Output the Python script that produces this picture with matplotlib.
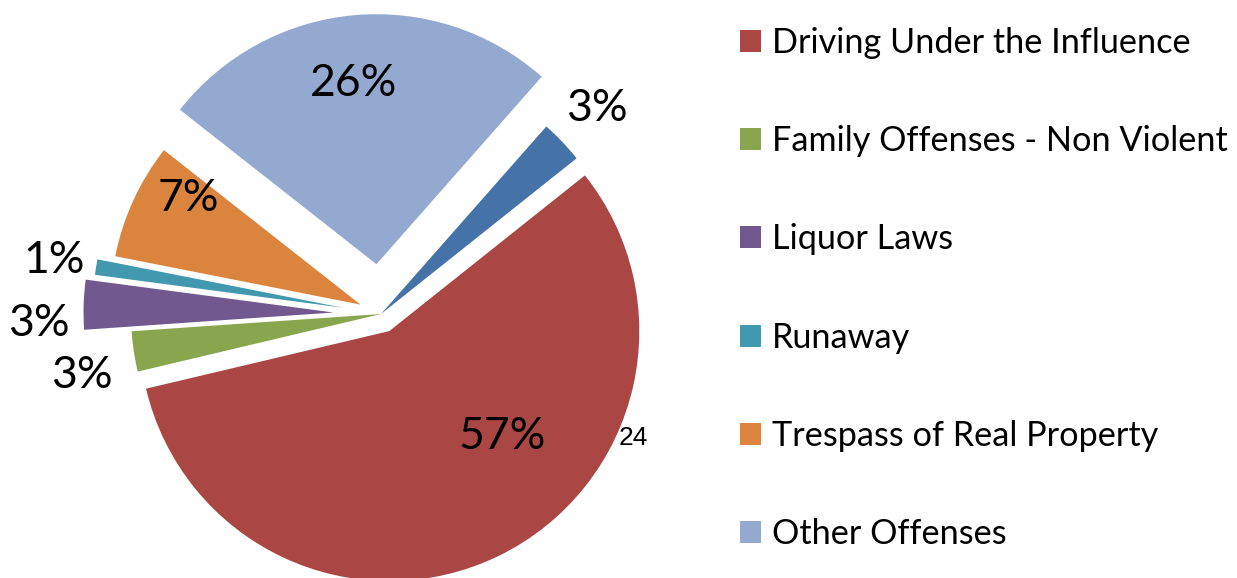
import numpy as np
import matplotlib
matplotlib.use("Agg")
import matplotlib.pyplot as plt

plt.rcParams["font.family"] = ["Lato", "DejaVu Sans"]

# --- data ---
categories = ["Other Category", "Driving Under the Influence", "Family Offenses - Non Violent",
              "Liquor Laws", "Runaway", "Trespass of Real Property", "Other Offenses"]
shares = [2.8, 57.0, 2.6, 3.2, 1.0, 7.5, 25.9]
pct_labels = ["3%", "57%", "3%", "3%", "1%", "7%", "26%"]
colors = ["#4572A7", "#AA4643", "#89A54E", "#71588F", "#4198AF", "#DB843D", "#93A9CF"]
explode = [0.0, 0.076, 0.0, 0.19, 0.155, 0.09, 0.2]

# label placement: distance from wedge tip (in radii) and angular shift (deg, clockwise)
label_r = [1.19, 0.62, 1.22, 1.18, 1.17, 0.81, 0.73]
label_shift = [0, -21, -3, -4, 0, 7, -2]

W, H = 1237, 578
fig = plt.figure(figsize=(W / 100, H / 100), dpi=100)

# axes in pixel terms: pie centre at (381, 314) from top-left, radius 250 px
ax_w = 700
cx, cy, rpx = 381, 314, 250
ax = fig.add_axes([0, 0, ax_w / W, 1])
wedges, _ = ax.pie(shares, colors=colors, explode=explode, startangle=48.6,
                   counterclock=False, radius=1.0,
                   wedgeprops=dict(linewidth=0))
ax.set_xlim(-cx / rpx, (ax_w - cx) / rpx)
ax.set_ylim(-(H - cy) / rpx, cy / rpx)
ax.set_aspect("auto")
ax.axis("off")

for w, lab, r, sh in zip(wedges, pct_labels, label_r, label_shift):
    mid = np.deg2rad((w.theta1 + w.theta2) / 2 - sh)
    x = w.center[0] + r * np.cos(mid)
    y = w.center[1] + r * np.sin(mid)
    ax.text(x, y, lab, ha="center", va="center", fontsize=32, color="black")

# page number as in the source
fig.text(633 / W, 1 - 438 / H, "24", ha="center", va="center", fontsize=19,
         family="Liberation Sans")

leg = fig.legend(wedges[1:], categories[1:], loc="upper left",
                 bbox_to_anchor=(740 / W, 1 - 27 / H), frameon=False,
                 fontsize=24.7, handlelength=0.61, handleheight=0.61,
                 handletextpad=0.32, labelspacing=1.93, borderpad=0,
                 borderaxespad=0)

fig.savefig("out.png", dpi=100)
